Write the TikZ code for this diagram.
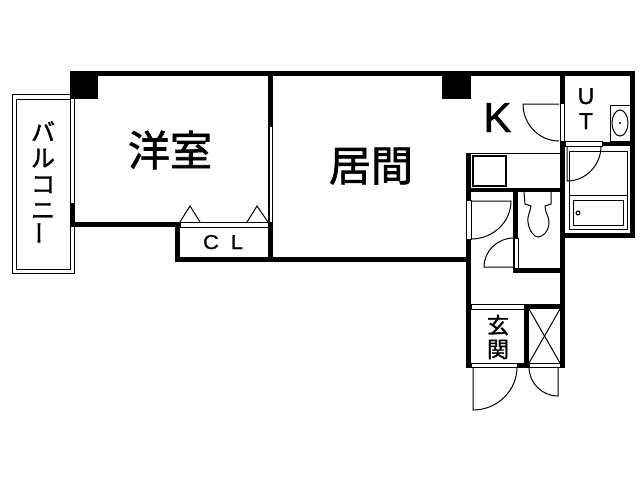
\documentclass[tikz,border=0pt]{standalone}
\usepackage{fontspec}
\setmainfont{Liberation Sans}
\newfontfamily\cjk[FakeBold=1.5]{Noto Sans CJK JP}
\newfontfamily\latinheavy[FakeBold=1]{Liberation Sans}
\tikzstyle{wall} = [fill=black]
\tikzstyle{strip} = [draw=black, fill=white, line width=0.8pt]
\tikzstyle{thin line} = [draw=black, line width=1pt]
\tikzstyle{fixture} = [draw=black, line width=1pt]
\tikzstyle{room} = [inner sep=0pt, font=\cjk\fontsize{42}{42}\selectfont]
\tikzstyle{small room} = [inner sep=0pt, align=center, font=\cjk\fontsize{22}{24}\selectfont]
\tikzstyle{latin} = [inner sep=0pt, anchor=base]

\begin{document}
\begin{tikzpicture}[x=1pt,y=-1pt]
        \useasboundingbox [fill=white] (0,0) rectangle (640,480);
        % balcony
        \draw [thin line,fill=white] (12,94) rectangle (74,273);
        \draw [thin line] (16,99) rectangle (70,269);
        % outer walls
        \fill [wall] (70,71) rectangle (635,76);
        \fill [wall] (70,71) rectangle (98,99);
        \fill [wall] (442,71) rectangle (471,99);
        \fill [wall] (70,203) rectangle (75,227);
        \fill [wall] (70,222) rectangle (180,227);
        \fill [wall] (175,222) rectangle (180,262);
        \fill [wall] (175,257) rectangle (471,262);
        \fill [wall] (268,76) rectangle (273,262);
        \fill [wall] (630,71) rectangle (635,238);
        \fill [wall] (560,233) rectangle (635,238);
        \fill [wall] (560,76) rectangle (565,368);
        % kitchen, toilet and hall
        \fill [wall] (466,153) rectangle (471,368);
        \fill [wall] (466,188) rectangle (565,192);
        \fill [wall] (513,192) rectangle (518,273);
        \fill [wall] (513,268) rectangle (565,273);
        \fill [wall] (524,304) rectangle (565,309);
        \fill [wall] (524,304) rectangle (529,368);
        \fill [wall] (466,363) rectangle (565,368);
        \fill [wall] (602,142) rectangle (635,146);
        % openings
        \draw [strip] (269.5,126) rectangle (272.5,222);
        \draw [strip] (180,222) rectangle (268,227);
        \draw [strip] (560,103) rectangle (564,141);
        \draw [strip] (565,141) rectangle (602,146);
        \draw [strip] (466,200) rectangle (471,239);
        \draw [strip] (514,238) rectangle (518,268);
        \draw [strip] (471,304) rectangle (524,309);
        \draw [strip] (471,363) rectangle (517,367);
        \draw [strip] (529,363) rectangle (560,367);
        \draw [thin line] (471,153) -- (560,153);
        % closet marks
        \draw [thin line] (180,222) -- (190,206) -- (200,222);
        \draw [thin line] (247,222) -- (257,206) -- (268,222);
        % doors
        \draw [thin line] (559,104) -- (523,104) arc (180:90:36 and 37);
        \draw [thin line] (471,201) -- (511,201) arc (0:90:40 and 38);
        \draw [thin line] (514,267) -- (484,267) arc (180:270:30 and 29);
        \draw [thin line] (567,146) -- (567,181) arc (90:0:34 and 35);
        \draw [thin line] (473,367) -- (473,410) arc (90:0:44 and 43);
        \draw [thin line] (558,367) -- (558,396) arc (90:180:29);
        % stove and storage
        \draw [fixture,line width=1.5pt] (473,156) rectangle (506,186);
        \draw [thin line] (529,309) -- (560,363);
        \draw [thin line] (560,309) -- (529,363);
        % toilet
        \draw [thin line] (524,192) -- (525,204) -- (531,206)
            .. controls (530,213) and (527,216) .. (528,222)
            .. controls (529,231) and (534,237) .. (538,237)
            .. controls (543,237) and (549,231) .. (549,222)
            .. controls (549,216) and (545,213) .. (545,206)
            -- (551,204) -- (551,192);
        % sink
        \draw [fixture] (610,105) rectangle (630,141);
        \draw [fixture] (620,123) ellipse (8 and 13);
        \fill (620,123) circle (1.2);
        % bath
        \draw [fixture] (569,151) rectangle (627,229);
        \draw [fixture] (569,195) -- (627,195);
        \draw [fixture] (573,200) rectangle (623,225);
        \draw [fixture] (578,213) circle (2);
        % labels
        \node [room] (western) at (170,150) {洋室};
        \node [room] (living) at (371,166) {居間};
        \node [small room] (entry) at (498,337) {玄\\関};
        \node [inner sep=0pt, align=center, font=\cjk\fontsize{24}{26}\selectfont] (balcony) at (43,183) {バ\\ル\\コ\\ニ\\\rotatebox{90}{ー}};
        \node [latin, font=\latinheavy\fontsize{42}{42}\selectfont] (kitchen) at (497.5,132) {K};
        \node [latin, font=\latinheavy\fontsize{23}{23}\selectfont] (utilU) at (586,104) {U};
        \node [latin, font=\latinheavy\fontsize{23}{23}\selectfont] (utilT) at (586,129) {T};
        \node [latin, xscale=1.1, font=\latinheavy\fontsize{20}{20}\selectfont] (closetC) at (211,249) {C};
        \node [latin, xscale=1.1, font=\latinheavy\fontsize{20}{20}\selectfont] (closetL) at (237,249) {L};
    \end{tikzpicture}
\end{document}
